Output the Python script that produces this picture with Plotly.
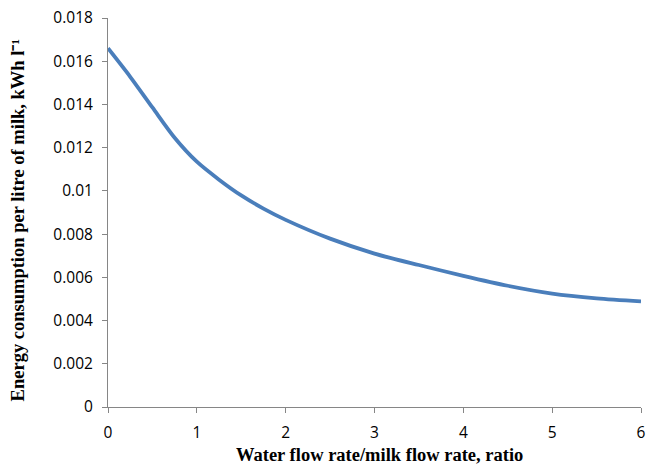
import plotly.graph_objects as go

ratio = [0, 0.25, 0.5, 0.75, 1, 1.25, 1.5, 1.75, 2, 2.5, 3, 3.5, 4, 4.5, 5, 5.5, 6]
energy = [0.0166, 0.01528, 0.01386, 0.01246, 0.01135, 0.01052, 0.00979, 0.00918, 0.00866,
          0.00779, 0.0071, 0.00657, 0.00607, 0.00561, 0.00525, 0.00503, 0.00489]

y_ticks = [0, 0.002, 0.004, 0.006, 0.008, 0.01, 0.012, 0.014, 0.016, 0.018]
y_tick_labels = ["0", "0.002", "0.004", "0.006", "0.008", "0.01", "0.012", "0.014", "0.016", "0.018"]
x_ticks = [0, 1, 2, 3, 4, 5, 6]

x_title = "<b>Water flow rate/milk flow rate, ratio</b>"
y_title = "<b>Energy consumption per litre of milk, kWh l⁻¹</b>"

fig = go.Figure()
fig.add_trace(go.Scatter(
    x=ratio, y=energy, mode="lines",
    line=dict(color="#4A7EBB", width=3.8, shape="spline", smoothing=0.8),
    showlegend=False, hoverinfo="skip",
))

axis_common = dict(
    showgrid=False, zeroline=False, showline=True, linecolor="#868686", linewidth=1,
    ticks="outside", ticklen=5, tickcolor="#868686", ticklabelstandoff=6,
    automargin=False,
    tickfont=dict(family="Open Sans, Liberation Sans, sans-serif", size=15.5, color="#000000"),
)

title_font = dict(family="Liberation Serif, Times New Roman, serif", size=18.5, color="#000")

fig.update_layout(
    width=646, height=466,
    margin=dict(l=108, r=5, t=18, b=59),
    paper_bgcolor="white", plot_bgcolor="white",
    xaxis=dict(range=[0, 6], tickvals=x_ticks, **axis_common),
    yaxis=dict(range=[0, 0.018], tickvals=y_ticks, ticktext=y_tick_labels, **axis_common),
    annotations=[
        dict(text=x_title, xref="paper", yref="paper", x=0.5, y=-0.1234, xshift=5,
             xanchor="center", yanchor="middle", showarrow=False, font=title_font),
        dict(text=y_title, xref="paper", yref="paper", x=-0.169, y=0.5, yshift=-8,
             xanchor="center", yanchor="middle", showarrow=False, textangle=-90, font=title_font),
    ],
)

fig.write_html("out.html")
